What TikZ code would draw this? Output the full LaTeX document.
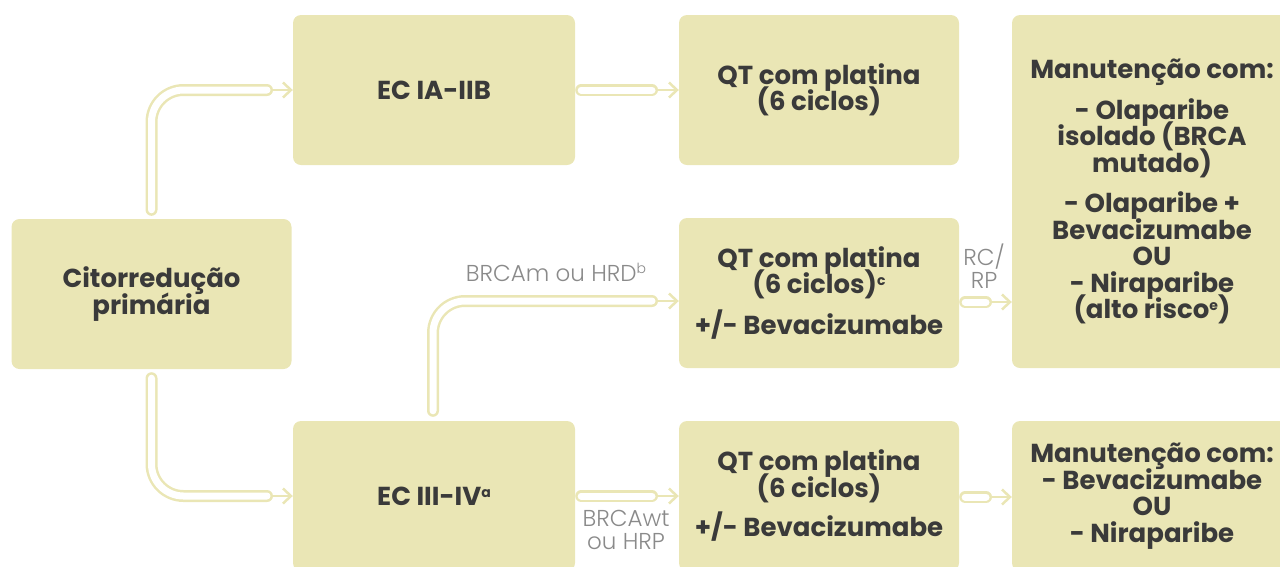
\documentclass[tikz,border=0pt]{standalone}
\usepackage{fontspec}
\setmainfont{Poppins}
\newfontfamily\lightfont{Poppins Light}
\usetikzlibrary{arrows.meta,calc}
\definecolor{boxc}{HTML}{EAE6B5}
\definecolor{tubec}{HTML}{EAE6B5}
\definecolor{txtc}{HTML}{3A3A3A}
\definecolor{lblc}{HTML}{8A8A8A}
\newcommand{\mysup}[1]{\raisebox{8pt}[0pt][0pt]{\fontsize{14}{14}\selectfont #1}}
\tikzset{
  box/.style={fill=boxc, rounded corners=8pt, minimum width=280pt, minimum height=150pt,
    inner sep=0pt, text=txtc, align=center,
    font={\fontsize{26}{26.5}\selectfont\bfseries\lineskiplimit=-40pt}},
  tube/.style={draw=tubec, line width=2.5pt, double=white, double distance=7pt,
    line cap=round, rounded corners=32pt},
  head/.style={draw=tubec, line width=2.5pt, -{Straight Barb[length=8pt,width=15pt]}},
  lbl/.style={text=lblc, align=center, inner sep=0pt,
    font={\lightfont\fontsize{23}{22.5}\selectfont\lineskiplimit=-40pt}}
}
\begin{document}
\begin{tikzpicture}[x=1pt,y=-1pt]
\useasboundingbox (0,0) rectangle (1280,566);
\clip (0,0) rectangle (1280,566);
% boxes
\node[box] (cit) at (151.5,294) {Citorredução\\primária};
\node[box, minimum width=282pt] (ec1) at (434,90) {EC IA-IIB};
\node[box, minimum width=282pt] (ec2) at (434,496) {EC III-IV\mysup{a}};
\node[box] (qt1) at (819,90) {QT com platina\\(6 ciclos)};
\node[box] (qt2) at (819,293) {QT com platina\\(6 ciclos)\mysup{c}\\[14pt]+/- Bevacizumabe};
\node[box] (qt3) at (819,496) {QT com platina\\(6 ciclos)\\[13pt]+/- Bevacizumabe};
\node[box, minimum height=353pt] (m1) at (1152,191.5) {Manutenção com:\\[14pt]- Olaparibe\\isolado (BRCA\\mutado)\\[14pt]- Olaparibe +\\Bevacizumabe\\OU\\- Niraparibe\\(alto risco\mysup{e})};
\node[box] (m2) at (1152,496) {Manutenção com:\\- Bevacizumabe\\OU\\- Niraparibe};
% tube end coordinates (outer cap edges)
\coordinate (h1) at (273,90);
\coordinate (h2) at (273,496);
\coordinate (h3) at (658,90);
\coordinate (h4) at (658,301);
\coordinate (h5) at (658,496);
\coordinate (h6) at (992,302);
\coordinate (h7) at (992,497);
% tubes
\draw[tube] ($(cit.north)+(0,-9)$) |- ($(h1)+(-6,0)$);
\draw[tube] ($(cit.south)+(0,9)$) |- ($(h2)+(-6,0)$);
\draw[tube] ($(ec1.east)+(6,0)$) -- ($(h3)+(-6,0)$);
\draw[tube] ($(ec2.north)+(-1,-10)$) |- ($(h4)+(-6,0)$);
\draw[tube] ($(ec2.east)+(6,0)$) -- ($(h5)+(-6,0)$);
\draw[tube] ($(qt2.east |- h6)+(6,0)$) -- ($(h6)+(-6,0)$);
\draw[tube] ($(qt3.east |- h7)+(6,0)$) -- ($(h7)+(-6,0)$);
% heads
\draw[head] (h1) -- (ec1.west |- h1);
\draw[head] (h2) -- (ec2.west |- h2);
\draw[head] (h3) -- (qt1.west |- h3);
\draw[head] (h4) -- (qt2.west |- h4);
\draw[head] (h5) -- (qt3.west |- h5);
\draw[head] (h6) -- (m1.west |- h6);
\draw[head] (h7) -- (m2.west |- h7);
% labels
\node[lbl] (l1) at (556,273) {BRCAm ou HRD\mysup{b}};
\node[lbl] (l2) at (626,530) {BRCAwt\\ou HRP};
\node[lbl] (l3) at (984,266) {RC/\\RP};
\end{tikzpicture}
\end{document}
